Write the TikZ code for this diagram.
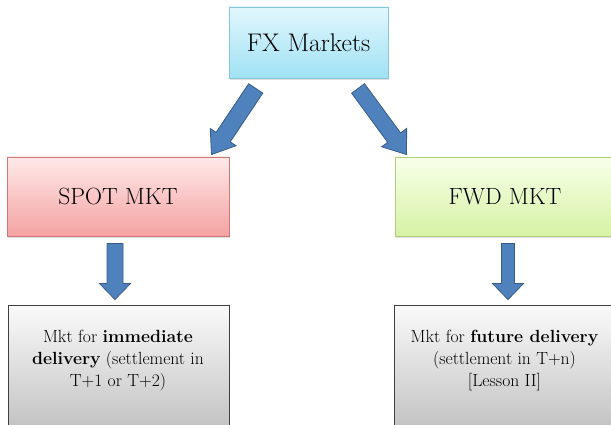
\documentclass[tikz,border=0pt]{standalone}
\usepackage{fontspec}
\usetikzlibrary{calc,shadows}
\definecolor{arrfill}{HTML}{4F81BD}
\definecolor{arrdraw}{HTML}{385D8A}
\definecolor{fxtop}{HTML}{E2F7FD}
\definecolor{fxbot}{HTML}{9FE1F4}
\definecolor{fxline}{HTML}{86C6D9}
\definecolor{sptop}{HTML}{FFE9E9}
\definecolor{spbot}{HTML}{F4A2A2}
\definecolor{spline}{HTML}{D07876}
\definecolor{fwtop}{HTML}{F8FFEA}
\definecolor{fwbot}{HTML}{D6F2A4}
\definecolor{fwline}{HTML}{B0CF7E}
\definecolor{grtop}{HTML}{FAFAFA}
\definecolor{grbot}{HTML}{BBBBBB}
\definecolor{grline}{HTML}{3F3F3F}
\tikzset{
  boxstyle/.style={rectangle, inner sep=0pt, line width=0.9pt,
    drop shadow={shadow xshift=1.2pt, shadow yshift=-1.8pt, opacity=0.25}},
  bigtext/.style={font=\rmfamily\fontsize{23.5}{28}\selectfont},
  fxtext/.style={font=\rmfamily\fontsize{25.5}{30}\selectfont},
  smalltext/.style={font=\rmfamily\fontsize{17.6}{22}\selectfont, align=center, inner sep=0pt},
  barrowstyle/.style={fill=arrfill, draw=arrdraw, line width=0.8pt, line join=miter}
}
\newcommand\blockarr[5]{%
  \path coordinate (hb) at ($(#2)!#5!(#1)$);
  \draw[barrowstyle] ($(#1)!#3!90:(#2)$) -- ($(hb)!#3!90:(#2)$) -- ($(hb)!#4!90:(#2)$)
    -- (#2) -- ($(hb)!#4!-90:(#2)$) -- ($(hb)!#3!-90:(#2)$) -- ($(#1)!#3!-90:(#2)$) -- cycle;
}
\begin{document}
\begin{tikzpicture}[x=1pt,y=-1pt]
\useasboundingbox (0,0) rectangle (611,425);
\clip (0,0) rectangle (611,425);
% boxes
\node[boxstyle, draw=fxline, top color=fxtop, bottom color=fxbot,
      minimum width=159pt, minimum height=71pt, fxtext] (fx) at (308.5,42.5) {FX Markets};
\node[boxstyle, draw=spline, top color=sptop, bottom color=spbot,
      minimum width=222pt, minimum height=79pt, bigtext] (spot) at (118,196.5) {SPOT MKT};
\node[boxstyle, draw=fwline, top color=fwtop, bottom color=fwbot,
      minimum width=220pt, minimum height=79pt, bigtext] (fwd) at (505,196.5) {FWD MKT};
\node[boxstyle, draw=grline, top color=grtop, bottom color=grbot,
      minimum width=221pt, minimum height=140pt] (imm) at (118.5,375) {};
\node[boxstyle, draw=grline, top color=grtop, bottom color=grbot,
      minimum width=220pt, minimum height=140pt] (fut) at (504,375) {};
\node[smalltext] (immtext) at (118,361) {Mkt for \textbf{immediate}\\\textbf{delivery} (settlement in\\T+1 or T+2)};
\node[smalltext] (futtext) at (504.5,361) {Mkt for \textbf{future delivery}\\(settlement in T+n)\\{[}Lesson II{]}};
% arrow anchors
\coordinate (a1s) at ($(fx.south west)!0.17!(fx.south east)+(0,10)$);
\coordinate (a1e) at ($(spot.north east)+(-18,-2)$);
\coordinate (a2s) at ($(fx.south west)!0.81!(fx.south east)+(0,10)$);
\coordinate (a2e) at ($(fwd.north west)+(12,-2)$);
\coordinate (a3s) at ($(spot.south)+(-3,7)$);
\coordinate (a3e) at ($(imm.north)+(-3.5,-5)$);
\coordinate (a4s) at ($(fwd.south)+(3,7)$);
\coordinate (a4e) at ($(fut.north)+(4,-5)$);
\blockarr{a1s}{a1e}{8.5pt}{15.5pt}{21pt}
\blockarr{a2s}{a2e}{8pt}{15.5pt}{21pt}
\blockarr{a3s}{a3e}{8pt}{15.5pt}{16pt}
\blockarr{a4s}{a4e}{6.5pt}{15.5pt}{16pt}
\end{tikzpicture}
\end{document}
